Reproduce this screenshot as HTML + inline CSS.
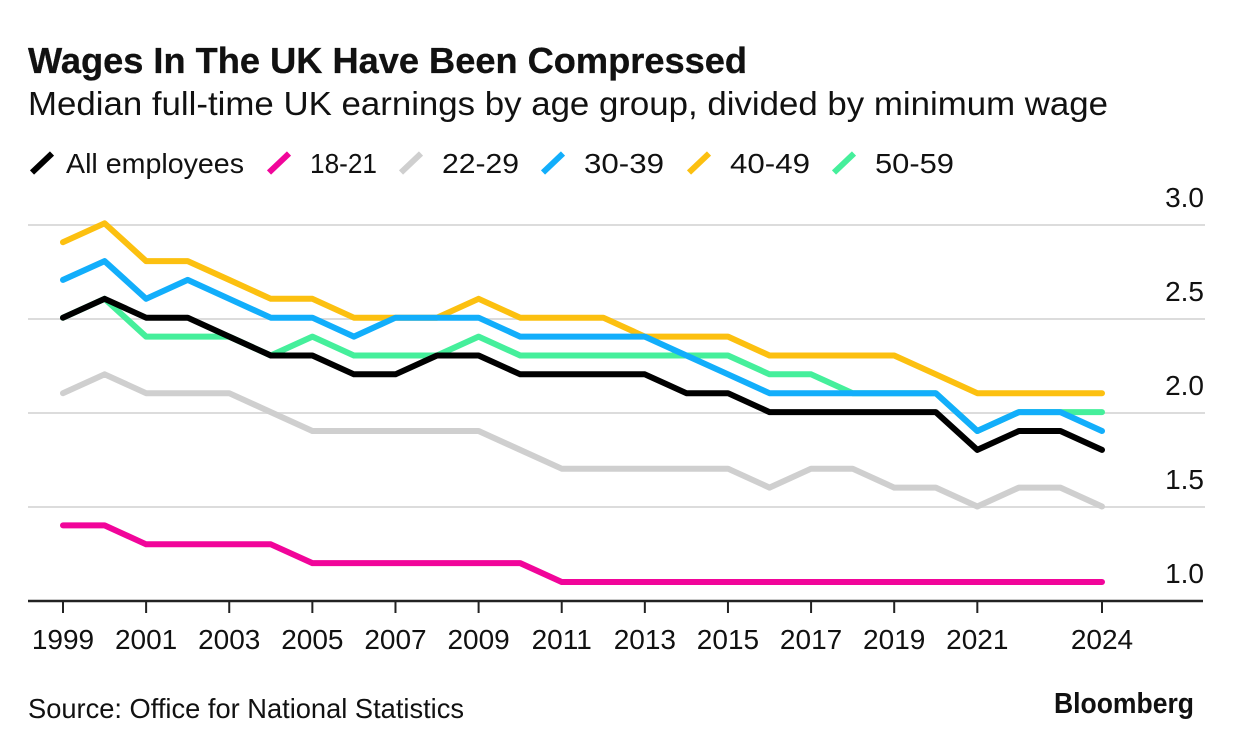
<!DOCTYPE html>
<html lang="en">
<head>
<meta charset="utf-8">
<title>Wages In The UK Have Been Compressed</title>
<style>
html,body{margin:0;padding:0;background:#fff;width:1233px;height:750px;overflow:hidden}
svg{display:block}
text{font-family:"Liberation Sans",sans-serif;fill:#111}
</style>
</head>
<body>
<svg id="chart" width="1233" height="750" viewBox="0 0 1233 750" xmlns="http://www.w3.org/2000/svg">
<text x="28" y="73" font-size="36" font-weight="700" stroke="#111" stroke-width="0.3" textLength="719" lengthAdjust="spacingAndGlyphs">Wages In The UK Have Been Compressed</text>
<text x="28" y="115" font-size="33" textLength="1080" lengthAdjust="spacingAndGlyphs">Median full-time UK earnings by age group, divided by minimum wage</text>
<g id="legend"></g>
<g id="grid"></g>
<g id="series"></g>
<g id="axis"></g>
<text x="28" y="718" font-size="28" textLength="436" lengthAdjust="spacingAndGlyphs">Source: Office for National Statistics</text>
<text x="1054" y="713" font-size="29" font-weight="700" textLength="140" lengthAdjust="spacingAndGlyphs">Bloomberg</text>
</svg>
<script>
const years = [1999,2000,2001,2002,2003,2004,2005,2006,2007,2008,2009,2010,2011,2012,2013,2014,2015,2016,2017,2018,2019,2020,2021,2022,2023,2024];
const xTickYears = [1999,2001,2003,2005,2007,2009,2011,2013,2015,2017,2019,2021,2024];
const yTicks = [1.0,1.5,2.0,2.5,3.0];
const allEmployees = [2.5,2.6,2.5,2.5,2.4,2.3,2.3,2.2,2.2,2.3,2.3,2.2,2.2,2.2,2.2,2.1,2.1,2.0,2.0,2.0,2.0,2.0,1.8,1.9,1.9,1.8];
const age18to21 = [1.4,1.4,1.3,1.3,1.3,1.3,1.2,1.2,1.2,1.2,1.2,1.2,1.1,1.1,1.1,1.1,1.1,1.1,1.1,1.1,1.1,1.1,1.1,1.1,1.1,1.1];
const age22to29 = [2.1,2.2,2.1,2.1,2.1,2.0,1.9,1.9,1.9,1.9,1.9,1.8,1.7,1.7,1.7,1.7,1.7,1.6,1.7,1.7,1.6,1.6,1.5,1.6,1.6,1.5];
const age30to39 = [2.7,2.8,2.6,2.7,2.6,2.5,2.5,2.4,2.5,2.5,2.5,2.4,2.4,2.4,2.4,2.3,2.2,2.1,2.1,2.1,2.1,2.1,1.9,2.0,2.0,1.9];
const age40to49 = [2.9,3.0,2.8,2.8,2.7,2.6,2.6,2.5,2.5,2.5,2.6,2.5,2.5,2.5,2.4,2.4,2.4,2.3,2.3,2.3,2.3,2.2,2.1,2.1,2.1,2.1];
const age50to59 = [2.5,2.6,2.4,2.4,2.4,2.3,2.4,2.3,2.3,2.3,2.4,2.3,2.3,2.3,2.3,2.3,2.3,2.2,2.2,2.1,2.1,2.1,1.9,2.0,2.0,2.0];

const NS = 'http://www.w3.org/2000/svg';
const xScale = y => 63 + (y - 1999) * (1102 - 63) / 25;
const yScale = v => 601 - (v - 1) * 188;
const lineScale = v => 600.9 - (v - 1) * 188.8;

function make(tag, attrs, parent, txt) {
  const el = document.createElementNS(NS, tag);
  for (const k in attrs) el.setAttribute(k, attrs[k]);
  if (txt !== undefined) el.textContent = txt;
  parent.appendChild(el);
  return el;
}

const gridG = document.getElementById('grid');
yTicks.forEach(v => {
  if (v > 1) {
    const gl = make('line', {x1:28, x2:1205, y1:yScale(v), y2:yScale(v), stroke:'#dcdcdc', 'stroke-width':2}, gridG);
    
    
  }
  const lbl = make('text', {x:1204, y:yScale(v) - 18, 'text-anchor':'end', 'font-size':28}, gridG, v.toFixed(1));
  
  
});

const seriesG = document.getElementById('series');
function drawSeries(values, color, name) {
  const pts = values.map((v, i) => xScale(years[i]).toFixed(1) + ',' + lineScale(v).toFixed(1)).join(' ');
  const pl = make('polyline', {points:pts, fill:'none', stroke:color, 'stroke-width':6, 'stroke-linejoin':'round', 'stroke-linecap':'round'}, seriesG);
  
  
}
drawSeries(age18to21, '#f1059a', 'line-18-21');
drawSeries(age22to29, '#cfcfcf', 'line-22-29');
drawSeries(age50to59, '#45ef9b', 'line-50-59');
drawSeries(age40to49, '#fcc010', 'line-40-49');
drawSeries(age30to39, '#12aefb', 'line-30-39');
drawSeries(allEmployees, '#000000', 'line-all-employees');

const axisG = document.getElementById('axis');
const axLine = make('line', {x1:28, x2:1203, y1:601, y2:601, stroke:'#222', 'stroke-width':2.4}, axisG);


xTickYears.forEach(y => {
  const t = make('line', {x1:xScale(y), x2:xScale(y), y1:601, y2:613, stroke:'#222', 'stroke-width':2}, axisG);
  
  
  const l = make('text', {x:xScale(y), y:649, 'text-anchor':'middle', 'font-size':28}, axisG, String(y));
  
  
});

const legendG = document.getElementById('legend');
const legendLabels = ['All employees','18-21','22-29','30-39','40-49','50-59'];
const legendColors = ['#000000','#f1059a','#cfcfcf','#12aefb','#fcc010','#45ef9b'];
const legendStarts = [31,268,400,542,688,833];
const legendWidths = [178,67,77,80,80,79];
legendLabels.forEach((name, i) => {
  const s = legendStarts[i];
  const sw = make('line', {x1:s + 1, y1:172.5, x2:s + 21, y2:153.5, stroke:legendColors[i], 'stroke-width':6}, legendG);
  
  
  const tx = make('text', {x:s + 35 + (i ? 7 : 0), y:173, 'font-size':28, textLength:legendWidths[i], lengthAdjust:'spacingAndGlyphs'}, legendG, name);
  
  
});
</script>
</body>
</html>
